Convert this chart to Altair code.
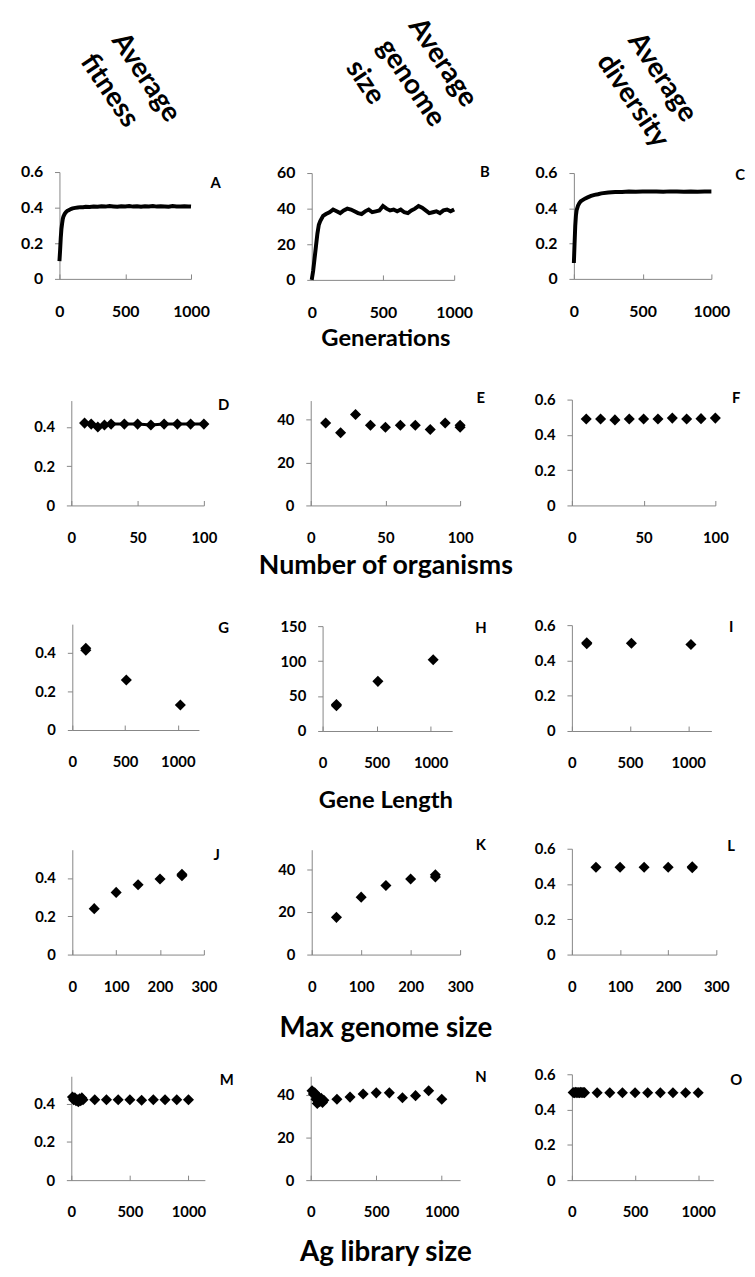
import altair as alt
import pandas as pd

# ---------------- data ----------------
col_titles = ["Average\nfitness", "Average\ngenome\nsize", "Average\ndiversity"]
row_titles = ["Generations", "Number of organisms", "Gene Length", "Max genome size", "Ag library size"]
panel_letters = list("ABCDEFGHIJKLMNO")

# Row 1: generations
gen_A = [0, 5, 10, 15, 20, 25, 30, 40, 50, 60, 70, 80, 90, 100, 120, 140, 160, 180, 200, 230,
         260, 290, 320, 350, 380, 410, 440, 470, 500, 530, 560, 590, 620, 650, 680, 710, 740,
         770, 800, 830, 860, 890, 920, 950, 980, 1000]
fit_A = [0.10, 0.16, 0.23, 0.28, 0.31, 0.335, 0.35, 0.365, 0.375, 0.382, 0.386, 0.39, 0.393,
         0.396, 0.399, 0.401, 0.403, 0.402, 0.405, 0.404, 0.407, 0.405, 0.408, 0.406, 0.409,
         0.407, 0.405, 0.408, 0.407, 0.409, 0.406, 0.408, 0.405, 0.408, 0.407, 0.409, 0.406,
         0.408, 0.407, 0.405, 0.409, 0.407, 0.406, 0.408, 0.407, 0.406]
gen_B = [0, 10, 20, 30, 40, 50, 60, 80, 100, 125, 150, 175, 200, 225, 250, 275, 300, 325, 350,
         375, 400, 425, 450, 475, 500, 525, 550, 575, 600, 625, 650, 675, 700, 725, 750, 775,
         800, 825, 850, 875, 900, 925, 950, 975, 1000]
size_B = [0, 5, 12, 19, 26, 31, 33, 36, 37, 38, 39.5, 38.5, 37.5, 39, 40, 39.5, 38.5, 37.5, 37,
          38.5, 39.5, 38, 38.5, 39, 41.5, 40, 39, 39.5, 38.5, 39.5, 38, 37.5, 39, 40, 41.5, 40.5,
          39, 37.5, 38, 38.5, 37.5, 39, 39.5, 38.5, 39.5]
gen_C = [0, 5, 10, 15, 20, 30, 40, 50, 60, 80, 100, 125, 150, 175, 200, 250, 300, 350, 400, 450,
         500, 550, 600, 650, 700, 750, 800, 850, 900, 950, 1000]
div_C = [0.09, 0.2, 0.3, 0.36, 0.39, 0.415, 0.43, 0.44, 0.445, 0.455, 0.462, 0.47, 0.476, 0.48,
         0.485, 0.49, 0.492, 0.493, 0.495, 0.494, 0.495, 0.496, 0.495, 0.494, 0.496, 0.495,
         0.494, 0.495, 0.494, 0.495, 0.495]

# Row 2: number of organisms
org = [10, 15, 20, 25, 30, 40, 50, 60, 70, 80, 90, 100]
fit_D = [0.42, 0.415, 0.40, 0.41, 0.415, 0.415, 0.415, 0.41, 0.415, 0.415, 0.415, 0.415]
org_E = [10, 20, 30, 40, 50, 60, 70, 80, 90, 100, 100]
size_E = [38.5, 34, 42.5, 37.5, 36.5, 37.5, 37.5, 35.5, 38.5, 36.5, 37.5]
org_F = [10, 20, 30, 40, 50, 60, 70, 80, 90, 100]
div_F = [0.49, 0.49, 0.485, 0.49, 0.49, 0.49, 0.495, 0.49, 0.492, 0.495]

# Row 3: gene length
glen = [128, 128, 512, 1024]
fit_G = [0.415, 0.425, 0.26, 0.13]
size_H = [36, 38, 71, 102]
div_I = [0.495, 0.5, 0.497, 0.49]

# Row 4: max genome size
maxg = [50, 100, 150, 200, 250, 250]
fit_J = [0.24, 0.325, 0.365, 0.395, 0.412, 0.42]
size_K = [17.5, 27, 32.5, 35.5, 36.5, 37.5]
div_L = [0.495, 0.495, 0.495, 0.495, 0.492, 0.498]

# Row 5: Ag library size
ag = [10, 20, 30, 40, 50, 60, 70, 80, 90, 100, 200, 300, 400, 500, 600, 700, 800, 900, 1000]
fit_M = [0.435, 0.42, 0.43, 0.415, 0.42, 0.41, 0.425, 0.415, 0.43, 0.42,
         0.42, 0.42, 0.42, 0.42, 0.418, 0.42, 0.42, 0.42, 0.42]
size_N = [42, 40.5, 41, 38, 36, 39, 37, 38.5, 36.5, 37.5,
          38, 39, 40.5, 41, 41, 38.7, 39.7, 42, 38]
div_O = [0.497, 0.495, 0.498, 0.496, 0.497, 0.495, 0.498, 0.496, 0.497, 0.496,
         0.495, 0.495, 0.495, 0.495, 0.495, 0.495, 0.495, 0.495, 0.495]

# ---------------- layout (page pixels) ----------------
OFF = 8
W, H = 747, 1261
AX = "#868686"
FONT = "Lato"
DIAMOND = 125

layers = []


def panel(xs, ys, xdom, ydom, box, xticks, yticks, kind="point", fs=15):
    px0, px1, py0, pyt = box
    cx0, cx1, cy0, cyt = px0 - OFF, px1 - OFF, py0 - OFF, pyt - OFF
    df = pd.DataFrame({"x": xs, "y": ys})
    xsc = alt.Scale(domain=xdom, range=[cx0, cx1], nice=False, zero=False)
    ysc = alt.Scale(domain=ydom, range=[cy0, cyt], nice=False, zero=False)
    common = dict(grid=False, title=None, labelFont=FONT, labelFontWeight="bold",
                  labelFontSize=fs, labelColor="black", domainColor=AX, tickColor=AX,
                  format="~r", labelOverlap=False)
    xaxis = alt.Axis(orient="bottom", offset=cy0 - H, values=xticks, ticks=False,
                     tickSize=0, labelPadding=25, labelFlush=False, **common)
    yaxis = alt.Axis(orient="left", offset=-cx0, values=yticks, tickSize=5,
                     labelPadding=12, **common)
    enc = dict(x=alt.X("x:Q", scale=xsc, axis=xaxis), y=alt.Y("y:Q", scale=ysc, axis=yaxis))
    if kind == "line":
        m = alt.Chart(df).mark_line(color="black", strokeWidth=4)
    elif kind == "linepoint":
        m = alt.Chart(df).mark_line(
            color="black", strokeWidth=3,
            point=alt.OverlayMarkDef(shape="diamond", filled=True, size=DIAMOND,
                                     color="black", opacity=1))
    else:
        m = alt.Chart(df).mark_point(shape="diamond", filled=True, size=DIAMOND,
                                     color="black", opacity=1)
    layers.append(m.encode(**enc))
    tick_axis = alt.Axis(orient="top", offset=-cy0, values=xticks, labels=False,
                         domain=False, tickSize=5, tickColor=AX, grid=False, title=None)
    layers.append(alt.Chart(df).mark_point(opacity=0).encode(
        x=alt.X("x:Q", scale=xsc, axis=tick_axis)))


fr = [0, 0.2, 0.4, 0.6]
fr2 = [0, 0.2, 0.4]
panel(gen_A, fit_A, [0, 1000], [0, 0.6], (60, 193, 275, 167), [0, 500, 1000], fr, "line", 16)
panel(gen_B, size_B, [0, 1000], [0, 60], (315, 459, 276, 168), [0, 500, 1000], [0, 20, 40, 60], "line", 16)
panel(gen_C, div_C, [0, 1000], [0, 0.6], (580, 719, 275, 168), [0, 500, 1000], fr, "line", 16)

panel(org, fit_D, [0, 100], [0, 0.535], (72, 206, 504, 398), [0, 50, 100], fr2, "linepoint")
panel(org_E, size_E, [0, 100], [0, 49], (314, 465, 504, 398), [0, 50, 100], [0, 20, 40])
panel(org_F, div_F, [0, 100], [0, 0.6], (578, 723, 504, 397), [0, 50, 100], fr)

panel(glen, fit_G, [0, 1200], [0, 0.55], (73, 201, 731, 624), [0, 500, 1000], fr2)
panel(glen, size_H, [0, 1200], [0, 150], (326, 457, 732, 626), [0, 500, 1000], [0, 50, 100, 150])
panel(glen, div_I, [0, 1200], [0, 0.6], (578, 719, 732, 625), [0, 500, 1000], fr)

panel(maxg, fit_J, [0, 300], [0, 0.548], (73, 206, 958, 852), [0, 100, 200, 300], fr2)
panel(maxg, size_K, [0, 300], [0, 49.3], (315, 465, 958, 852), [0, 100, 200, 300], [0, 20, 40])
panel(maxg, div_L, [0, 300], [0, 0.6], (578, 724, 958, 851), [0, 100, 200, 300], fr)

panel(ag, fit_M, [0, 1140], [0, 0.543], (72, 207, 1186, 1081), [0, 500, 1000], fr2)
panel(ag, size_N, [0, 1140], [0, 48.8], (314, 465, 1186, 1081), [0, 500, 1000], [0, 20, 40])
panel(ag, div_O, [0, 1120], [0, 0.6], (578, 721, 1186, 1079), [0, 500, 1000], fr)


def text(t, px, py, size, angle=0, align="center", baseline="middle", lh=None):
    kw = dict(font=FONT, fontWeight="bold", fontSize=size, color="black",
              align=align, baseline=baseline, lineBreak="\n")
    if angle:
        kw["angle"] = angle
    if lh:
        kw["lineHeight"] = lh
    layers.append(alt.Chart(pd.DataFrame({"t": [t]})).mark_text(**kw).encode(
        x=alt.value(px - OFF), y=alt.value(py - OFF), text="t:N"))


# column titles (rotated)
for t, (px, py) in zip(col_titles, [(112, 34), (412, 19), (634, 34)]):
    text(t, px, py, 28, angle=56, align="left", baseline="alphabetic", lh=38)

# row titles
for t, py, fsz in zip(row_titles, [336, 565, 803, 1033, 1260], [24, 27, 24, 28, 28]):
    text(t, 390, py, fsz)

# panel letters
letter_pos = [(218, 178), (490, 167), (748, 170),
              (226, 403), (486, 395), (744, 395),
              (226, 628), (486, 628), (739, 627),
              (219, 857), (486, 847), (739, 848),
              (229, 1085), (486, 1082), (744, 1085)]
for t, (px, py) in zip(panel_letters, letter_pos):
    text(t, px, py, 15)

chart = (
    alt.layer(*layers)
    .resolve_scale(x="independent", y="independent")
    .resolve_axis(x="independent", y="independent")
    .properties(width=W, height=H, autosize=alt.AutoSizeParams(type="none"), padding=0,
                background="white")
    .configure_view(stroke=None)
)

chart.save("out.html", embed_options={"renderer": "svg", "actions": False})
